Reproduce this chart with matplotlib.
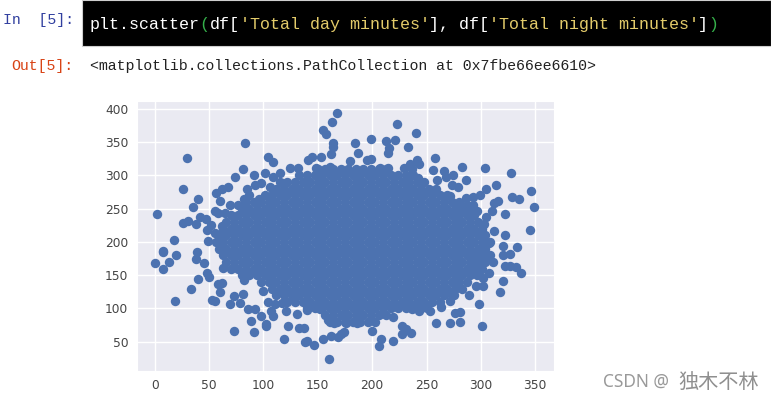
import matplotlib
matplotlib.use("Agg")
import matplotlib.pyplot as plt
import seaborn as sns
from matplotlib.patches import Rectangle

# points that can be told apart around the blob
edge_x = [168, 163, 154.5, 158, 164, 164, 162, 83, 30, 104, 109, 81, 74, 91, 101, 115, 26, 40, 35, 2.5,
          26, 31, 38, 42, 47, 51.5, 48, 17.5, 8, 39, 56, 62, 67, 60, 69, 55, 58, 85, 87, 82,
          96, 92, 98, 106, 109, 117, 124, 132, 141, 145, 153, 148, 161, 62, 49, 82, 77, 65, 55.5, 60,
          222.5, 240, 184, 199, 212.5, 220.7, 233, 215.5, 187, 214.6, 258, 180, 195, 199, 241, 243, 235, 229, 236.5, 207,
          214.6, 256, 266, 274, 283, 304, 328, 286, 260, 242, 268, 278.5, 273, 299, 305, 314, 346, 329, 335, 349,
          315.6, 312, 322, 310, 305, 303, 345, 312, 322, 298, 333.5, 320.5, 307, 272, 286, 293, 296, 287, 293,
          320, 326.5, 307, 311, 294, 294.6, 322, 326.5, 332, 336.6, 307, 302, 320, 295.5, 302, 317.4, 289, 298, 276, 281,
          259, 272, 281, 301, 275, 272, 263, 253.5, 243, 237, 219, 210, 186, 176, 200, 208, 206.4, 219, 227, 231,
          236, 227, 171.5, 174, 20, 13, 0.3, 8, 8, 38, 45.5, 48, 40, 50, 33.5, 18.5, 52.5, 55.5, 60, 58.5,
          62, 73, 81, 69, 78.5, 86, 92, 98, 88.6, 72.5, 91, 102.4, 102.4, 107, 109, 104, 111, 117, 121, 123,
          119, 133, 137, 131, 140, 127.5, 138, 140, 146.5, 154.5, 162, 169, 160, 159, 164.5, 152, 100, 82, 63]
edge_y = [394, 381, 368, 363, 349, 343, 332, 349, 327, 328, 321, 310, 297, 300, 303, 303, 280, 265, 252, 242,
          228, 231, 227, 238, 234, 226, 218, 202.5, 185, 185, 273, 280, 282, 261, 256, 247, 244, 280, 271, 265,
          265, 286, 289, 282, 297, 288, 311, 312, 323, 328, 328, 311, 313, 224, 202, 213, 256, 243, 213, 211,
          378, 364, 349, 355, 352, 353, 343, 342, 334, 334, 327, 322, 323, 325, 323, 317, 317, 311, 309, 311,
          312, 308, 306, 301, 313, 312, 304, 293, 293, 296, 297, 282, 285, 270, 280, 286, 276, 267, 265, 253,
          261, 259, 242, 247, 238, 227, 217.5, 217, 210, 213, 192, 194, 198, 269, 266, 267, 246, 256, 256,
          181, 182, 174, 170, 179, 166, 164, 164, 162, 154, 154, 146, 141, 134, 134, 125, 121, 107, 93.5, 94.5,
          77.5, 77.5, 79.5, 73.5, 121, 111, 102, 96, 96, 98.5, 87, 93.5, 77.5, 77.5, 66, 54, 43, 51, 73.5, 69.5,
          63.5, 62, 61, 65, 180, 170, 169, 159, 186, 175, 169, 154, 145, 147, 130, 111, 112.5, 111, 124.5, 137,
          139, 118.5, 122, 106, 108.5, 99.5, 99.5, 88.5, 81, 66, 64, 77, 73.5, 96, 88.5, 110, 106, 108.5, 96, 73.5,
          54.5, 71, 71, 91, 97, 117, 50, 51, 45, 54.5, 58, 57, 24, 82, 78, 98.5, 126, 143.5, 161]

# the solid middle of the blob, one list of x per level of y
core_levels = [80, 90, 100, 110, 120, 130, 140, 150, 160, 170, 180, 190, 200,
               210, 220, 230, 240, 250, 260, 270, 280, 290, 300, 310]
core_rows = [
    [161, 168, 175, 182, 189, 196, 203],
    [157, 164, 171, 178, 185, 192, 199, 206, 213],
    [140, 147, 154, 161, 168, 175, 182, 189, 196, 203, 210, 217, 224, 231, 238, 245, 250],
    [122, 129, 136, 143, 150, 157, 164, 171, 178, 185, 192, 199, 206, 213, 220, 227, 234, 241, 248, 255, 262],
    [112, 119, 126, 133, 140, 147, 154, 161, 168, 175, 182, 189, 196, 203, 210, 217, 224, 231, 238, 245, 252, 259, 266, 273],
    [108, 115, 122, 129, 136, 143, 150, 157, 164, 171, 178, 185, 192, 199, 206, 213, 220, 227, 234, 241, 248, 255, 262, 269, 276, 283],
    [98, 105, 112, 119, 126, 133, 140, 147, 154, 161, 168, 175, 182, 189, 196, 203, 210, 217, 224, 231, 238, 245, 252, 259, 266, 273, 280, 287],
    [80, 87, 94, 101, 108, 115, 122, 129, 136, 143, 150, 157, 164, 171, 178, 185, 192, 199, 206, 213, 220, 227, 234, 241, 248, 255, 262, 269, 276, 283, 290, 296],
    [70, 77, 84, 91, 98, 105, 112, 119, 126, 133, 140, 147, 154, 161, 168, 175, 182, 189, 196, 203, 210, 217, 224, 231, 238, 245, 252, 259, 266, 273, 280, 287, 294, 301],
    [66, 73, 80, 87, 94, 101, 108, 115, 122, 129, 136, 143, 150, 157, 164, 171, 178, 185, 192, 199, 206, 213, 220, 227, 234, 241, 248, 255, 262, 269, 276, 283, 290, 297, 304],
    [63, 70, 77, 84, 91, 98, 105, 112, 119, 126, 133, 140, 147, 154, 161, 168, 175, 182, 189, 196, 203, 210, 217, 224, 231, 238, 245, 252, 259, 266, 273, 280, 287, 294, 301, 308],
    [59, 66, 73, 80, 87, 94, 101, 108, 115, 122, 129, 136, 143, 150, 157, 164, 171, 178, 185, 192, 199, 206, 213, 220, 227, 234, 241, 248, 255, 262, 269, 276, 283, 290, 297, 304],
    [56, 63, 70, 77, 84, 91, 98, 105, 112, 119, 126, 133, 140, 147, 154, 161, 168, 175, 182, 189, 196, 203, 210, 217, 224, 231, 238, 245, 252, 259, 266, 273, 280, 287, 294, 301, 308],
    [59, 66, 73, 80, 87, 94, 101, 108, 115, 122, 129, 136, 143, 150, 157, 164, 171, 178, 185, 192, 199, 206, 213, 220, 227, 234, 241, 248, 255, 262, 269, 276, 283, 290, 297, 304],
    [63, 70, 77, 84, 91, 98, 105, 112, 119, 126, 133, 140, 147, 154, 161, 168, 175, 182, 189, 196, 203, 210, 217, 224, 231, 238, 245, 252, 259, 266, 273, 280, 287, 294, 301],
    [66, 73, 80, 87, 94, 101, 108, 115, 122, 129, 136, 143, 150, 157, 164, 171, 178, 185, 192, 199, 206, 213, 220, 227, 234, 241, 248, 255, 262, 269, 276, 283, 290, 297],
    [70, 77, 84, 91, 98, 105, 112, 119, 126, 133, 140, 147, 154, 161, 168, 175, 182, 189, 196, 203, 210, 217, 224, 231, 238, 245, 252, 259, 266, 273, 280, 287, 294],
    [80, 87, 94, 101, 108, 115, 122, 129, 136, 143, 150, 157, 164, 171, 178, 185, 192, 199, 206, 213, 220, 227, 234, 241, 248, 255, 262, 269, 276, 283, 290],
    [84, 91, 98, 105, 112, 119, 126, 133, 140, 147, 154, 161, 168, 175, 182, 189, 196, 203, 210, 217, 224, 231, 238, 245, 252, 259, 266, 273, 280],
    [101, 108, 115, 122, 129, 136, 143, 150, 157, 164, 171, 178, 185, 192, 199, 206, 213, 220, 227, 234, 241, 248, 255, 262, 269],
    [112, 119, 126, 133, 140, 147, 154, 161, 168, 175, 182, 189, 196, 203, 210, 217, 224, 231, 238, 245, 252, 259],
    [115, 122, 129, 136, 143, 150, 157, 164, 171, 178, 185, 192, 199, 206, 213, 220, 227, 234, 241, 248],
    [133, 140, 147, 154, 161, 168, 175, 182, 189, 196, 203, 210, 217, 224, 231, 238],
    [150, 157, 164, 171, 178, 185, 192, 199, 206, 213],
]

x_ticks = [0, 50, 100, 150, 200, 250, 300, 350]
y_ticks = [50, 100, 150, 200, 250, 300, 350, 400]

# source line split by colour: (text, colour)
code_parts = [
    ("plt.scatter", "#ffffff"), ("(", "#35b04a"), ("df[", "#ffffff"),
    ("'Total day minutes'", "#e3cb6a"), ("], df[", "#ffffff"),
    ("'Total night minutes'", "#e3cb6a"), ("]", "#ffffff"), (")", "#35b04a"),
]
out_text = "<matplotlib.collections.PathCollection at 0x7fbe66ee6610>"

sns.set_style("darkgrid")
plt.rcParams["font.family"] = ["DejaVu Sans"]

W, H = 771, 401
fig = plt.figure(figsize=(W / 100, H / 100), dpi=100)


def fx(x):
    return x / W


def fy(y):
    return 1 - y / H


fig.add_artist(Rectangle((fx(82), fy(46)), 1 - fx(82), 46 / H, transform=fig.transFigure,
                         facecolor="#000000", edgecolor="#cfcfcf", linewidth=0.8))

pos = 90
for part, col in code_parts:
    fig.text(fx(pos), fy(25), part, color=col, family="Liberation Mono", fontsize=12,
             ha="left", va="center")
    pos += len(part) * 9.97

fig.text(fx(3), fy(20), "In  [5]:", color="#303f9f", family="Liberation Mono", fontsize=10.7, va="center")
fig.text(fx(11), fy(66), "Out[5]:", color="#d84315", family="Liberation Mono", fontsize=10.7, va="center")
fig.text(fx(90), fy(66), out_text, color="#222222", family="Liberation Mono", fontsize=10.7, va="center")

ax = fig.add_axes([fx(136.7), fy(371), 417.6 / W, 270 / H])

core_x = [x for row in core_rows for x in row]
core_y = [lev for lev, row in zip(core_levels, core_rows) for x in row]
ax.scatter(edge_x + core_x, edge_y + core_y, s=46, color="#4c72b0", linewidths=0)

ax.set_xlim(-16.55, 367.5)
ax.set_ylim(6, 412)
ax.set_xticks(x_ticks)
ax.set_yticks(y_ticks)
ax.tick_params(labelsize=8.8, colors="#444444", length=0, pad=6)
ax.grid(True, color="white", linewidth=1)
ax.set_axisbelow(True)

fig.text(fx(603), fy(382), "CSDN @", color="#999999", fontsize=12.5,
         family=["Noto Sans", "DejaVu Sans"], ha="left", va="center")
fig.text(fx(678), fy(382), "独木不林", color="#8f8f8f", fontsize=14.5,
         family=["Noto Sans CJK SC", "DejaVu Sans"], ha="left", va="center")

plt.savefig("out.png", dpi=100)
